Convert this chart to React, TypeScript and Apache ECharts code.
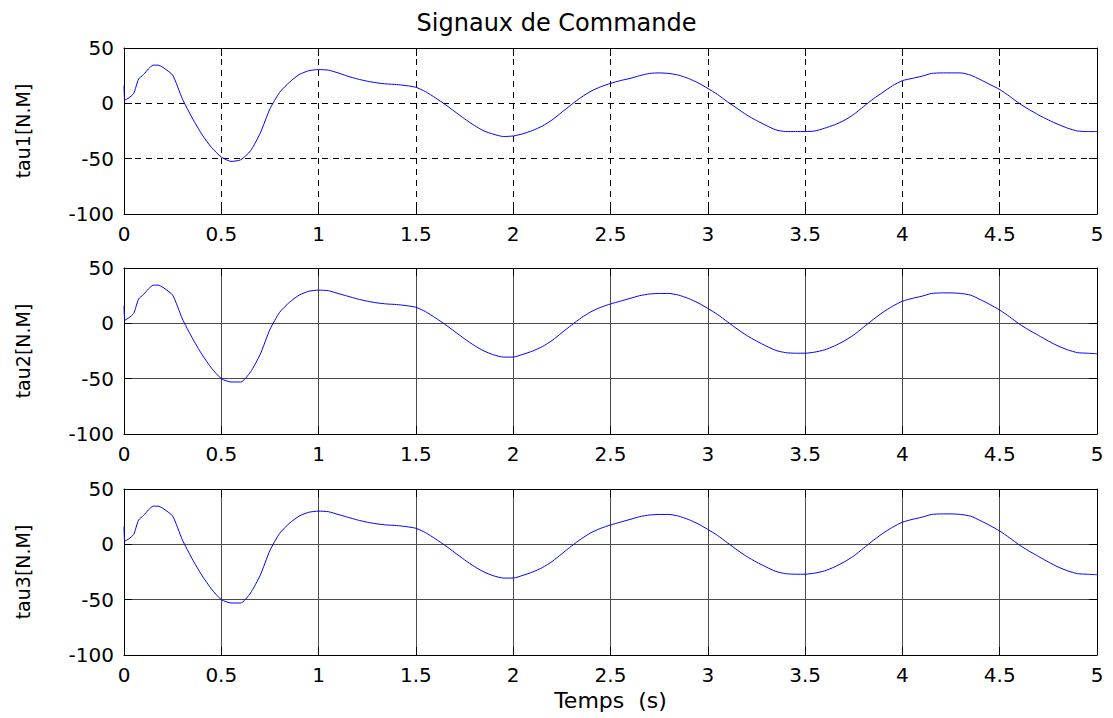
import React, { useEffect, useRef } from "react";
import * as echarts from "echarts";

const TITLE = "Signaux de Commande";
const X_NAME = "Temps  (s)";
const Y_NAMES = ["tau1[N.M]", "tau2[N.M]", "tau3[N.M]"];

const TIME = [
  0, 0.005, 0.025, 0.05, 0.075, 0.1, 0.125, 0.15, 0.175, 0.2,
  0.25, 0.3, 0.35, 0.4, 0.45, 0.5, 0.55, 0.6, 0.65, 0.7, 0.75, 0.8, 0.85, 0.9, 0.95,
  1.0, 1.05, 1.1, 1.15, 1.2, 1.25, 1.3, 1.35, 1.4, 1.45, 1.5, 1.55, 1.6, 1.65, 1.7, 1.75, 1.8, 1.85, 1.9, 1.95,
  2.0, 2.05, 2.1, 2.15, 2.2, 2.25, 2.3, 2.35, 2.4, 2.45, 2.5, 2.55, 2.6, 2.65, 2.7, 2.75, 2.8, 2.85, 2.9, 2.95,
  3.0, 3.05, 3.1, 3.15, 3.2, 3.25, 3.3, 3.35, 3.4, 3.45, 3.5, 3.55, 3.6, 3.65, 3.7, 3.75, 3.8, 3.85, 3.9, 3.95,
  4.0, 4.05, 4.1, 4.15, 4.2, 4.25, 4.3, 4.35, 4.4, 4.45, 4.5, 4.55, 4.6, 4.65, 4.7, 4.75, 4.8, 4.85, 4.9, 4.95,
  5.0,
];

const TAU1 = [
  16, 3, 5, 9, 22, 26, 31, 34.5, 34.5, 32.5,
  25.5, 4, -13, -28, -40, -48.5, -52.5, -51, -43, -27, -5, 10, 19, 26, 29.5,
  30.5, 30, 27.5, 24.5, 22, 20, 18.5, 17.5, 17, 16, 14.5, 10.5, 5, -1, -7.5, -14, -20, -25, -28, -30,
  -29.5, -27.5, -24.5, -20.5, -15, -8, -1, 5.5, 11, 15, 18, 20.5, 22.5, 25, 27, 27.5, 27, 25.5, 22.5, 18.5,
  13.5, 8, 1.5, -4.5, -10.5, -15.5, -20, -24, -25.5, -25.5, -25.5, -25, -22.5, -19.5, -15.5, -10, -3, 4, 10, 16,
  20.5, 22.5, 24.5, 27, 27.5, 27.5, 27.5, 25.5, 21.5, 17, 12.5, 6.5, 0, -5.5, -10.5, -15, -19, -22.5, -25, -25.5,
  -25.5,
];

const TAU2 = [
  16, 3, 5, 9, 22, 26, 31, 34.5, 34.5, 32.5,
  25.5, 4, -13, -28, -40.5, -50, -53, -53, -44, -28, -5.5, 10, 19, 25.5, 29,
  30, 29.5, 27, 24.5, 22, 20, 18.5, 17.5, 17, 16, 14.5, 10.5, 5, -1, -7.5, -14, -20, -25, -28.5, -30.5,
  -30.5, -28, -25, -21, -15.5, -8.5, -1.5, 5, 10.5, 14.5, 17.5, 20, 22.5, 25, 26.5, 27, 27, 25.5, 22.5, 18.5,
  13.5, 8, 1.5, -5, -11, -16, -20.5, -24.5, -26.5, -27, -27, -26, -24, -20.5, -16, -10.5, -3.5, 3.5, 10, 15.5,
  20, 22.5, 24.5, 27, 27.5, 27.5, 27, 25.5, 21.5, 17, 12, 6, -0.5, -6, -11, -16, -20.5, -24, -26.5, -27,
  -27.5,
];

const TAU3 = [
  16, 3, 5, 9, 22, 26, 31, 34.5, 34.5, 32.5,
  25.5, 4, -13, -28, -40.5, -50, -53, -53, -44, -28, -5.5, 10, 19, 25.5, 29,
  30, 29.5, 27, 24.5, 22, 20, 18.5, 17.5, 17, 16, 14.5, 10.5, 5, -1, -7.5, -14, -20, -25, -28.5, -30.5,
  -30.5, -28, -25, -21, -15.5, -8.5, -1.5, 5, 10.5, 14.5, 17.5, 20, 22.5, 25, 26.5, 27, 27, 25.5, 22.5, 18.5,
  13.5, 8, 1.5, -5, -11, -16, -20.5, -24.5, -26.5, -27, -27, -26, -24, -20.5, -16, -10.5, -3.5, 3.5, 10, 15.5,
  20, 22.5, 24.5, 27, 27.5, 27.5, 27, 25.5, 21.5, 17, 12, 6, -0.5, -6, -11, -16, -20.5, -24, -26.5, -27,
  -27.5,
];

const SERIES = [TAU1, TAU2, TAU3];
const X_MIN = 0, X_MAX = 5, X_STEP = 0.5;
const Y_MIN = -100, Y_MAX = 50, Y_STEP = 50;

const FONT = "DejaVu Sans";

export default function App() {
  const ref = useRef<HTMLDivElement>(null);
  useEffect(() => {
    if (!ref.current) return;
    const chart = echarts.init(ref.current, null, { renderer: "svg" });
    const tops = [48, 268, 489];
    const height = 166;
    const grids = tops.map((t) => ({ left: 124, top: t, width: 973, height, show: false }));
    const gridLine = (i: number) => ({
      show: true,
      lineStyle: i === 0
        ? { color: "#000", type: [6, 5], width: 1 }
        : { color: "#4a4a4a", type: "solid", width: 1 },
    });
    const xAxes: any[] = [];
    const yAxes: any[] = [];
    for (let i = 0; i < 3; i++) {
      xAxes.push({
        type: "value", gridIndex: i, min: X_MIN, max: X_MAX, interval: X_STEP, position: "bottom",
        axisLine: { show: true, onZero: false, lineStyle: { color: "#000", width: 1 } },
        axisTick: { show: true, inside: true, length: 8, lineStyle: { color: "#000" } },
        axisLabel: { show: true, margin: 10, color: "#000", fontSize: 20, fontFamily: FONT },
        splitLine: gridLine(i),
        name: i === 2 ? X_NAME : "",
        nameLocation: "middle", nameGap: 34,
        nameTextStyle: { color: "#000", fontSize: 22, fontFamily: FONT },
      });
      yAxes.push({
        type: "value", gridIndex: i, min: Y_MIN, max: Y_MAX, interval: Y_STEP, position: "left",
        axisLine: { show: true, onZero: false, lineStyle: { color: "#000", width: 1 } },
        axisTick: { show: true, inside: true, length: 8, lineStyle: { color: "#000" } },
        axisLabel: { show: true, margin: 10, color: "#000", fontSize: 20, fontFamily: FONT },
        splitLine: gridLine(i),
        name: Y_NAMES[i], nameLocation: "middle", nameGap: 92,
        nameTextStyle: { color: "#000", fontSize: 19, fontFamily: FONT },
      });
    }
    for (let i = 0; i < 3; i++) {
      xAxes.push({
        type: "value", gridIndex: i, min: X_MIN, max: X_MAX, interval: X_STEP, position: "top",
        axisLine: { show: true, onZero: false, lineStyle: { color: "#000", width: 1 } },
        axisTick: { show: true, inside: true, length: 8, lineStyle: { color: "#000" } },
        axisLabel: { show: false }, splitLine: { show: false },
      });
      yAxes.push({
        type: "value", gridIndex: i, min: Y_MIN, max: Y_MAX, interval: Y_STEP, position: "right",
        axisLine: { show: true, onZero: false, lineStyle: { color: "#000", width: 1 } },
        axisTick: { show: true, inside: true, length: 8, lineStyle: { color: "#000" } },
        axisLabel: { show: false }, splitLine: { show: false },
      });
    }
    const series = SERIES.map((vals, i) => ({
      type: "line", xAxisIndex: i, yAxisIndex: i,
      data: TIME.map((t, k) => [t, vals[k]]),
      showSymbol: false, symbol: "none", smooth: 0.2,
      lineStyle: { color: "#0000ff", width: 1 },
      z: 5,
    }));
    chart.setOption({
      animation: false,
      backgroundColor: "#fff",
      title: {
        text: TITLE, left: "center", top: 6,
        textStyle: { color: "#000", fontSize: 24, fontWeight: "normal", fontFamily: FONT },
      },
      grid: grids,
      xAxis: xAxes,
      yAxis: yAxes,
      series,
    });
    return () => chart.dispose();
  }, []);
  return (
    <div
      ref={ref}
      style={{ position: "absolute", left: 0, top: 0, width: 1113, height: 718, background: "#fff" }}
    />
  );
}
